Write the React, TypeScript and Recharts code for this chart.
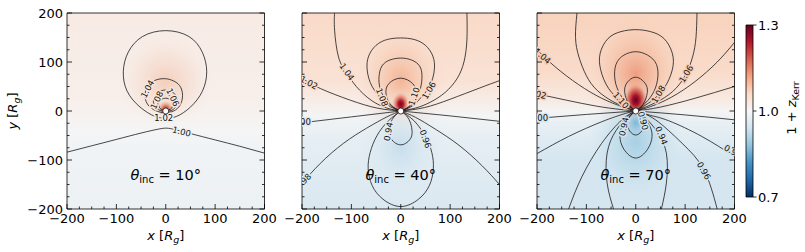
import React from 'react';
import { ScatterChart, Scatter, XAxis, YAxis, ReferenceArea } from 'recharts';

// axis ticks (major every 100, minor every 25)
const AXIS_TICKS = [-200, -175, -150, -125, -100, -75, -50, -25, 0, 25, 50, 75, 100, 125, 150, 175, 200];
const CBAR_TICKS = [0.7, 1.0, 1.3];
const INCLINATIONS = [10, 40, 70];
const TITLE_Y = -130;
const ORIGIN = [{ x: 0, y: 0 }];

// contour lines of 1 + z_Kerr, [x, y] in R_g
const CONTOURS_10 = [
  [[-200, -84], [-150, -71], [-100, -58], [-50, -45], [-15, -37], [0, -35], [15, -37], [50, -46], [100, -59], [150, -72], [200, -86]],
  [[0, -15], [22, -11], [50, 8], [74, 40], [83, 80], [74, 120], [47, 152], [0, 164], [-47, 152], [-76, 120], [-86, 80], [-78, 40], [-52, 8], [-22, -11], [0, -15]],
  [[0, -4], [16, 0], [29, 12], [34, 32], [28, 52], [12, 63], [-5, 66], [-23, 62], [-37, 50], [-42, 30], [-34, 10], [-16, -1], [0, -4]],
  [[0, -1], [15, 3], [24, 18], [18, 35], [0, 43], [-18, 35], [-25, 18], [-15, 3], [0, -1]],
  [[0, 1], [10, 4], [14, 13], [9, 23], [0, 26], [-9, 23], [-14, 13], [-10, 4], [0, 1]],
];

const CONTOURS_40 = [
  [[-134, 200], [-134, 165], [-126, 110], [-110, 78], [-90, 50], [-60, 22], [-28, 6], [0, 0]],
  [[0, 0], [30, 6], [60, 18], [90, 38], [114, 66], [128, 100], [134, 145], [134, 200]],
  [[0, 0], [-20, 8], [-37, 23], [-58, 50], [-68, 84], [-65, 112], [-50, 134], [-27, 146], [0, 149], [27, 146], [50, 134], [65, 112], [68, 84], [58, 50], [37, 23], [20, 8], [0, 0]],
  [[0, 0], [-16, 8], [-32, 25], [-42, 47], [-44, 70], [-38, 92], [-22, 104], [0, 108], [22, 104], [38, 92], [43, 72], [40, 47], [30, 25], [15, 8], [0, 0]],
  [[0, 0], [-12, 6], [-24, 18], [-30, 37], [-24, 56], [0, 67], [24, 56], [31, 38], [27, 18], [13, 6], [0, 0]],
  [[-200, 67], [-163, 46], [-102, 22], [-48, 6], [0, 0]],
  [[0, 0], [48, 7], [100, 24], [160, 47], [200, 62]],
  [[-200, -24], [-100, -12], [0, 0]],
  [[0, 0], [100, -10], [200, -21]],
  [[-200, -148], [-163, -107], [-116, -66], [-69, -35], [-28, -12], [0, 0]],
  [[0, 0], [30, -13], [70, -37], [118, -70], [165, -112], [200, -150]],
  [[0, 0], [-25, -20], [-48, -50], [-62, -85], [-66, -118], [-58, -152], [-36, -180], [0, -195], [36, -180], [58, -152], [66, -118], [63, -85], [50, -52], [27, -20], [0, 0]],
  [[0, 0], [-12, -10], [-21, -25], [-24, -42], [-20, -56], [-10, -66], [0, -69], [10, -66], [20, -56], [23, -42], [20, -25], [12, -10], [0, 0]],
];

const CONTOURS_70 = [
  [[-119, 200], [-122, 150], [-115, 110], [-100, 72], [-78, 42], [-42, 17], [0, 0]],
  [[0, 0], [40, 17], [75, 40], [100, 72], [115, 110], [122, 150], [124, 200]],
  [[0, 0], [-28, 19], [-55, 46], [-71, 84], [-72, 118], [-56, 148], [-30, 162], [0, 166], [30, 162], [57, 148], [74, 118], [74, 84], [57, 46], [30, 19], [0, 0]],
  [[0, 0], [-14, 12], [-31, 33], [-42, 63], [-40, 95], [-24, 114], [0, 121], [24, 114], [42, 95], [44, 63], [33, 33], [15, 12], [0, 0]],
  [[0, 0], [-11, 10], [-20, 27], [-22, 48], [-13, 63], [0, 69], [13, 63], [23, 48], [21, 27], [12, 10], [0, 0]],
  [[-200, 125], [-163, 90], [-116, 54], [-69, 26], [-28, 9], [0, 0]],
  [[0, 0], [30, 9], [72, 28], [120, 60], [165, 100], [200, 140]],
  [[-200, 35], [-140, 22], [-80, 10], [-30, 3], [0, 0]],
  [[0, 0], [50, 8], [120, 26], [200, 50]],
  [[-200, -15], [-100, -7], [0, 0]],
  [[0, 0], [100, -8], [200, -18]],
  [[-200, -87], [-136, -52], [-69, -22], [-21, -5], [0, 0]],
  [[0, 0], [30, -9], [67, -20], [134, -52], [200, -93]],
  [[-136, -200], [-109, -134], [-69, -66], [-28, -18], [0, 0]],
  [[0, 0], [40, -18], [94, -66], [138, -120], [165, -200]],
  [[-45, -200], [-58, -147], [-58, -86], [-40, -40], [-15, -10], [0, 0]],
  [[0, 0], [15, -10], [42, -40], [62, -86], [62, -147], [52, -200]],
  [[0, 0], [-14, -12], [-27, -30], [-32, -52], [-24, -78], [0, -96], [24, -78], [33, -52], [28, -30], [14, -12], [0, 0]],
  [[0, 0], [-9, -8], [-17, -24], [-12, -41], [0, -49], [12, -41], [18, -24], [10, -8], [0, 0]],
];

// inline contour labels: position in R_g, text, rotation in degrees
const LABELS_10 = [
  { x: -4, y: -14, text: '1.02', angle: 0 },
  { x: -37, y: 45, text: '1.04', angle: -62 },
  { x: 14, y: 28, text: '1.06', angle: 65 },
  { x: -18, y: 22, text: '1.08', angle: -65 },
  { x: 32, y: -42, text: '1.00', angle: 14 },
];
const LABELS_40 = [
  { x: -186, y: 58, text: '1.02', angle: 28 },
  { x: -109, y: 80, text: '1.04', angle: 55 },
  { x: 57, y: 42, text: '1.06', angle: -60 },
  { x: -38, y: 28, text: '1.08', angle: 68 },
  { x: 27, y: 30, text: '1.10', angle: -72 },
  { x: -193, y: -23, text: '00', angle: 0 },
  { x: -25, y: -42, text: '0.94', angle: -80 },
  { x: 50, y: -57, text: '0.96', angle: 70 },
  { x: -192, y: -138, text: '98', angle: -45 },
];
const LABELS_70 = [
  { x: -189, y: 112, text: '1.04', angle: 40 },
  { x: -192, y: 33, text: '02', angle: 15 },
  { x: -191, y: -14, text: '.00', angle: 0 },
  { x: -30, y: 22, text: '1.10', angle: 50 },
  { x: 46, y: 34, text: '1.08', angle: -60 },
  { x: 102, y: 76, text: '1.06', angle: -58 },
  { x: -24, y: -32, text: '0.94', angle: -78 },
  { x: 15, y: -20, text: '0.90', angle: 75 },
  { x: 52, y: -50, text: '0.94', angle: 68 },
  { x: 138, y: -122, text: '0.96', angle: 60 },
  { x: 192, y: -80, text: '0.9', angle: 30 },
];

const CONTOURS = [CONTOURS_10, CONTOURS_40, CONTOURS_70];
const LABELS = [LABELS_10, LABELS_40, LABELS_70];

// layout
const W = 805;
const H = 252;
const PLOT_TOP = 13;
const PLOT_BOTTOM = 209;
const PLOT_W = 197.5;
const PLOT_LEFTS = [67, 302, 537];
const CBAR = { left: 746, right: 753, top: 25, bottom: 197 };
const FONT = '"DejaVu Sans", sans-serif';

// background shading, approximating the RdBu_r map
const BG = [
  {
    lin: [[0, '#f7ebe4'], [0.45, '#f7efeb'], [0.6, '#f5f5f5'], [0.7, '#eff3f5'], [1, '#ecf1f4']],
    blobs: [
      { cx: 0.5, cy: 0.35, r: 0.24, sx: 1, stops: [[0, '#f4cbb6', 0.9], [0.6, '#f5dccf', 0.5], [1, '#f7ebe4', 0]] },
      { cx: 0.5, cy: 0.49, r: 0.045, sx: 1, stops: [[0, '#b2182b', 1], [0.4, '#e0775e', 0.9], [1, '#f4c9b3', 0]] },
    ],
  },
  {
    lin: [[0, '#f9dac8'], [0.35, '#f9e2d5'], [0.46, '#f7eee9'], [0.52, '#f3f4f5'], [0.65, '#e5eef3'], [1, '#dae8f0']],
    blobs: [
      { cx: 0.5, cy: 0.34, r: 0.3, sx: 0.8, stops: [[0, '#f3b293', 0.95], [0.5, '#f7cdb6', 0.6], [1, '#f9e2d5', 0]] },
      { cx: 0.5, cy: 0.68, r: 0.3, sx: 0.8, stops: [[0, '#c3dcec', 0.9], [1, '#e5eef3', 0]] },
      { cx: 0.5, cy: 0.465, r: 0.06, sx: 0.75, stops: [[0, '#7a0624', 1], [0.3, '#b2182b', 1], [0.7, '#e58066', 0.6], [1, '#f3b293', 0]] },
    ],
  },
  {
    lin: [[0, '#f8d3bd'], [0.3, '#f9dbca'], [0.44, '#f8e9e0'], [0.5, '#f4f4f4'], [0.57, '#e6eff4'], [0.75, '#d5e6f0'], [1, '#d6e6f0']],
    blobs: [
      { cx: 0.5, cy: 0.31, r: 0.33, sx: 0.8, stops: [[0, '#ee9e80', 1], [0.5, '#f5c1a6', 0.6], [1, '#f9dbca', 0]] },
      { cx: 0.5, cy: 0.66, r: 0.3, sx: 0.8, stops: [[0, '#a7cfe4', 1], [0.6, '#c3deec', 0.6], [1, '#d5e6f0', 0]] },
      { cx: 0.5, cy: 0.56, r: 0.08, sx: 0.8, stops: [[0, '#7fb6d8', 1], [1, '#a7cfe4', 0]] },
      { cx: 0.5, cy: 0.445, r: 0.085, sx: 0.7, stops: [[0, '#67001f', 1], [0.3, '#a5142b', 1], [0.65, '#d6604d', 0.8], [1, '#ee9e80', 0]] },
    ],
  },
];

const CBAR_STOPS = [
  [0, '#67001f'], [0.1, '#b2182b'], [0.2, '#d6604d'], [0.3, '#f4a582'], [0.4, '#fddbc7'], [0.5, '#f7f7f7'],
  [0.6, '#d1e5f0'], [0.7, '#92c5de'], [0.8, '#4393c3'], [0.9, '#2166ac'], [1, '#053061'],
];

const HALO = [
  ['#f6e6dd', '#f6f3f2', '#eef2f4'],
  ['#f8dccc', '#f5f2f0', '#dfebf2'],
  ['#f5ccb6', '#f4f4f4', '#d3e5ef'],
];

const toPts = (c: number[][]) => c.map(([x, y]) => ({ x, y }));
const fmt = (v: number) => (v < 0 ? '\u2212' + Math.abs(v) : String(v));
const noDot = () => <g />;

const renderTick = (side: 'bottom' | 'top' | 'left' | 'right', withLabel: boolean) => (props: any) => {
  const { x, y, payload } = props;
  const v = payload.value as number;
  const major = v % 100 === 0;
  const len = major ? 5 : 2.5;
  let x2 = x;
  let y2 = y;
  if (side === 'bottom') y2 = y - len;
  if (side === 'top') y2 = y + len;
  if (side === 'left') x2 = x + len;
  if (side === 'right') x2 = x - len;
  return (
    <g>
      <line x1={x} y1={y} x2={x2} y2={y2} stroke="#000" strokeWidth={0.8} />
      {withLabel && major && side === 'bottom' && (
        <text x={x} y={y + 14} textAnchor="middle" fontSize={13} fill="#000">{fmt(v)}</text>
      )}
      {withLabel && major && side === 'left' && (
        <text x={x - 4} y={y + 4.5} textAnchor="end" fontSize={13} fill="#000">{fmt(v)}</text>
      )}
    </g>
  );
};

const xLabel = (p: any) => {
  const vb = p.viewBox || {};
  return (
    <text x={vb.x + vb.width / 2} y={vb.y + 31} textAnchor="middle" fontSize={13} fill="#000">
      <tspan fontStyle="italic">x</tspan>
      <tspan> [</tspan>
      <tspan fontStyle="italic">R</tspan>
      <tspan fontStyle="italic" fontSize={9.5} dy={3}>g</tspan>
      <tspan dy={-3}>]</tspan>
    </text>
  );
};

const yLabel = (p: any) => {
  const vb = p.viewBox || {};
  const x = vb.x + vb.width - 50;
  const y = vb.y + vb.height / 2;
  return (
    <text x={x} y={y} transform={`rotate(-90 ${x} ${y})`} textAnchor="middle" fontSize={13} fill="#000">
      <tspan fontStyle="italic">y</tspan>
      <tspan> [</tspan>
      <tspan fontStyle="italic">R</tspan>
      <tspan fontStyle="italic" fontSize={9.5} dy={3}>g</tspan>
      <tspan dy={-3}>]</tspan>
    </text>
  );
};

const labelShape = (idx: number) => (p: any) => {
  const d = p.payload || p;
  const halo = HALO[idx][d.y > 8 ? 0 : d.y < -8 ? 2 : 1];
  return (
    <text
      x={p.cx}
      y={p.cy}
      transform={`rotate(${d.angle} ${p.cx} ${p.cy})`}
      textAnchor="middle"
      dominantBaseline="central"
      fontSize={8.5}
      fill="#111"
      stroke={halo}
      strokeWidth={3}
      strokeLinejoin="round"
      paintOrder="stroke"
    >
      {d.text}
    </text>
  );
};

const titleShape = (inc: number) => (p: any) => (
  <text x={p.cx} y={p.cy + 5} textAnchor="middle" fontSize={14.5} fill="#000">
    <tspan fontStyle="italic">θ</tspan>
    <tspan fontSize={10} dy={3}>inc</tspan>
    <tspan dy={-3}>{' = ' + inc + '°'}</tspan>
  </text>
);

const originDot = (p: any) => <circle cx={p.cx} cy={p.cy} r={3} fill="#fff" stroke="#000" strokeWidth={0.7} />;

function Panel({ idx }: { idx: number }) {
  const left = PLOT_LEFTS[idx];
  const right = left + PLOT_W;
  const bg = BG[idx];
  const id = `p${idx}`;
  const axisProps = {
    type: 'number' as const,
    domain: [-200, 200],
    ticks: AXIS_TICKS,
    interval: 0 as const,
    allowDataOverflow: true,
    tickSize: 0,
    tickMargin: 0,
    tickLine: false,
    axisLine: { stroke: '#000', strokeWidth: 0.8 },
  };
  return (
    <div style={{ position: 'absolute', left: 0, top: 0 }}>
      <ScatterChart
        width={W}
        height={H}
        margin={{ top: PLOT_TOP - 1, right: W - right - 1, bottom: H - PLOT_BOTTOM - 30, left: left - 40 }}
      >
        <defs>
          <linearGradient id={`${id}-lin`} x1="0" y1="0" x2="0" y2="1">
            {bg.lin.map(([o, c], i) => (
              <stop key={i} offset={o as number} stopColor={c as string} />
            ))}
          </linearGradient>
          {bg.blobs.map((b, i) => (
            <radialGradient
              key={i}
              id={`${id}-b${i}`}
              cx={b.cx}
              cy={b.cy}
              r={b.r}
              gradientTransform={`translate(${b.cx} ${b.cy}) scale(${b.sx} 1) translate(${-b.cx} ${-b.cy})`}
            >
              {b.stops.map(([o, c, a], j) => (
                <stop key={j} offset={o as number} stopColor={c as string} stopOpacity={a as number} />
              ))}
            </radialGradient>
          ))}
        </defs>
        <XAxis xAxisId="b" dataKey="x" height={30} {...axisProps} tick={renderTick('bottom', true)} label={xLabel} />
        <XAxis xAxisId="t" orientation="top" height={1} {...axisProps} tick={renderTick('top', false)} />
        <YAxis
          yAxisId="l"
          dataKey="y"
          width={40}
          {...axisProps}
          tick={renderTick('left', idx === 0)}
          label={idx === 0 ? yLabel : undefined}
        />
        <YAxis yAxisId="r" orientation="right" width={1} {...axisProps} tick={renderTick('right', false)} />
        <ReferenceArea xAxisId="b" yAxisId="l" x1={-200} x2={200} y1={-200} y2={200} fill={`url(#${id}-lin)`} fillOpacity={1} stroke="none" />
        {bg.blobs.map((_, i) => (
          <ReferenceArea key={i} xAxisId="b" yAxisId="l" x1={-200} x2={200} y1={-200} y2={200} fill={`url(#${id}-b${i})`} fillOpacity={1} stroke="none" />
        ))}
        {CONTOURS[idx].map((c, i) => (
          <Scatter
            key={i}
            xAxisId="b"
            yAxisId="l"
            data={toPts(c)}
            line={{ stroke: '#1a1a1a', strokeWidth: 0.8 }}
            lineJointType="natural"
            shape={noDot}
            isAnimationActive={false}
          />
        ))}
        <Scatter xAxisId="b" yAxisId="l" data={LABELS[idx]} shape={labelShape(idx)} isAnimationActive={false} />
        <Scatter xAxisId="b" yAxisId="l" data={ORIGIN} shape={originDot} isAnimationActive={false} />
        <Scatter xAxisId="b" yAxisId="l" data={[{ x: 0, y: TITLE_Y }]} shape={titleShape(INCLINATIONS[idx])} isAnimationActive={false} />
      </ScatterChart>
    </div>
  );
}

const cbarTick = (props: any) => {
  const { x, y, payload } = props;
  return (
    <g>
      <line x1={x} y1={y} x2={x + 3.5} y2={y} stroke="#000" strokeWidth={0.8} />
      <text x={x + 5} y={y + 4.5} fontSize={13} fill="#000">{(payload.value as number).toFixed(1)}</text>
    </g>
  );
};

const cbarLabel = (p: any) => {
  const vb = p.viewBox || {};
  const x = vb.x + 43;
  const y = vb.y + vb.height / 2 - 3;
  return (
    <text x={x} y={y} transform={`rotate(-90 ${x} ${y})`} textAnchor="middle" fontSize={13} fill="#000">
      <tspan>1 + </tspan>
      <tspan fontStyle="italic">z</tspan>
      <tspan fontSize={9.5} dy={3}>Kerr</tspan>
    </text>
  );
};

function Colorbar() {
  return (
    <div style={{ position: 'absolute', left: 0, top: 0 }}>
      <ScatterChart
        width={W}
        height={H}
        margin={{ top: CBAR.top, right: W - CBAR.right - 50, bottom: H - CBAR.bottom, left: CBAR.left }}
      >
        <defs>
          <linearGradient id="cbar-grad" x1="0" y1="0" x2="0" y2="1">
            {CBAR_STOPS.map(([o, c], i) => (
              <stop key={i} offset={o as number} stopColor={c as string} />
            ))}
          </linearGradient>
        </defs>
        <XAxis xAxisId="c" type="number" dataKey="x" domain={[0, 1]} hide allowDataOverflow />
        <YAxis
          yAxisId="c"
          orientation="right"
          type="number"
          dataKey="y"
          domain={[0.7, 1.3]}
          ticks={CBAR_TICKS}
          interval={0}
          width={50}
          allowDataOverflow
          tickSize={0}
          tickMargin={0}
          tickLine={false}
          axisLine={false}
          tick={cbarTick}
          label={cbarLabel}
        />
        <ReferenceArea xAxisId="c" yAxisId="c" x1={0} x2={1} y1={0.7} y2={1.3} fill="url(#cbar-grad)" fillOpacity={1} stroke="#000" strokeWidth={0.8} />
        <Scatter xAxisId="c" yAxisId="c" data={[]} shape={noDot} isAnimationActive={false} />
      </ScatterChart>
    </div>
  );
}

export default function App() {
  return (
    <div style={{ position: 'absolute', left: 0, top: 0, width: W, height: H, background: '#fff', fontFamily: FONT }}>
      {INCLINATIONS.map((_, i) => (
        <Panel key={i} idx={i} />
      ))}
      <Colorbar />
    </div>
  );
}
